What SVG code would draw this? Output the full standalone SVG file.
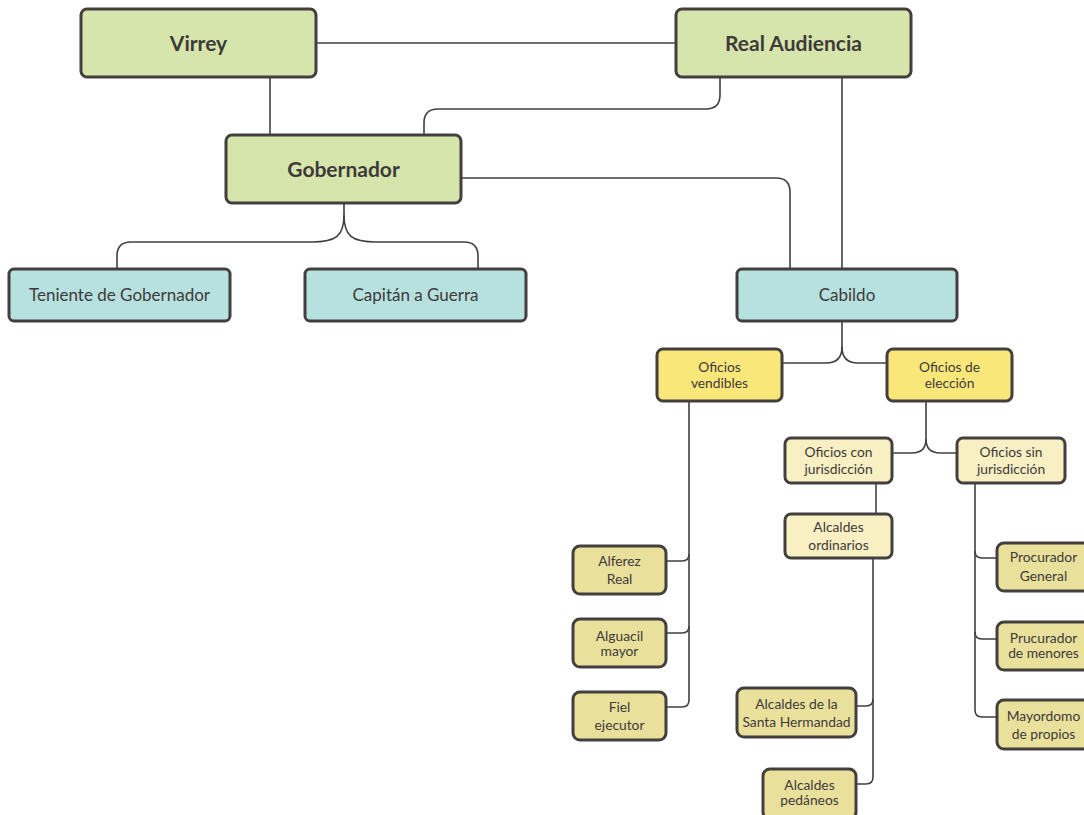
<svg xmlns="http://www.w3.org/2000/svg" width="1084" height="815" viewBox="0 0 1084 815">
<style>
.box{stroke:#433f3f;stroke-width:3}
.g{fill:#d6e5ab}
.c{fill:#b7e1df}
.y{fill:#fae77a}
.ly{fill:#f8efc3}
.k{fill:#e8e09b}
.conn path{fill:none;stroke:#433f3f;stroke-width:1.6}
text{font-family:Lato,"Open Sans","Liberation Sans",sans-serif;fill:#3e3a3a;text-anchor:middle}
.big{font-size:21px;font-weight:bold}
.mid{font-size:17px}
.sm{font-size:13.8px}
</style>
<rect width="1084" height="815" fill="#ffffff"/>
<g class="conn">
<path d="M316,43 H676"/>
<path d="M270,78 V135"/>
<path d="M720,78 V95 Q720,109 706,109 H438 Q424,109 424,123 V135"/>
<path d="M461,178 H776 Q790,178 790,192 V269"/>
<path d="M842,78 V269"/>
<path d="M344,203 V215 C344,236 336,242 312,242 H131 Q117,242 117,256 V268"/>
<path d="M344,215 C344,236 352,242 376,242 H464 Q478,242 478,256 V268"/>
<path d="M842,321 V347 Q842,363 826,363 H782"/>
<path d="M842,347 Q842,363 858,363 H887"/>
<path d="M926,401 V439 Q926,453 912,453 H892"/>
<path d="M926,439 Q926,453 940,453 H957"/>
<path d="M876,483 V514"/>
<path d="M689,401 V700 Q689,707 682,707 H666"/>
<path d="M689,554 Q689,561 682,561 H666"/>
<path d="M689,626 Q689,633 682,633 H666"/>
<path d="M873,558 V777 Q873,784 866,784 H856"/>
<path d="M873,699 Q873,706 866,706 H856"/>
<path d="M975,483 V710 Q975,717 982,717 H997"/>
<path d="M975,551 Q975,558 982,558 H997"/>
<path d="M975,632 Q975,639 982,639 H997"/>
</g>
<g id="virrey"><rect class="box g" x="81" y="9" width="235" height="68" rx="6"/><text class="big" x="198.5" y="50.5">Virrey</text></g>
<g id="real-audiencia"><rect class="box g" x="676" y="9" width="235" height="68" rx="6"/><text class="big" x="793.5" y="50.5">Real Audiencia</text></g>
<g id="gobernador"><rect class="box g" x="226" y="135" width="235" height="68" rx="6"/><text class="big" x="343.5" y="176.5">Gobernador</text></g>
<g id="teniente"><rect class="box c" x="9" y="269" width="221" height="52" rx="5"/><text class="mid" x="119.5" y="301">Teniente de Gobernador</text></g>
<g id="capitan"><rect class="box c" x="305" y="269" width="221" height="52" rx="5"/><text class="mid" x="415.5" y="301">Capitán a Guerra</text></g>
<g id="cabildo"><rect class="box c" x="737" y="269" width="220" height="52" rx="5"/><text class="mid" x="847" y="301">Cabildo</text></g>
<g id="oficios-vendibles"><rect class="box y" x="657" y="349" width="125" height="52" rx="6"/><text class="sm" x="719.5" y="371.5">Oficios</text><text class="sm" x="719.5" y="387.5">vendibles</text></g>
<g id="oficios-eleccion"><rect class="box y" x="887" y="349" width="125" height="52" rx="6"/><text class="sm" x="949.5" y="371.5">Oficios de</text><text class="sm" x="949.5" y="387.5">elección</text></g>
<g id="oficios-con"><rect class="box ly" x="785" y="438" width="107" height="45" rx="6"/><text class="sm" x="838.5" y="456.5">Oficios con</text><text class="sm" x="838.5" y="473.5">jurisdicción</text></g>
<g id="oficios-sin"><rect class="box ly" x="957" y="438" width="108" height="45" rx="6"/><text class="sm" x="1011" y="456.5">Oficios sin</text><text class="sm" x="1011" y="473.5">jurisdicción</text></g>
<g id="alcaldes-ordinarios"><rect class="box ly" x="785" y="514" width="107" height="44" rx="6"/><text class="sm" x="838.5" y="531.5">Alcaldes</text><text class="sm" x="838.5" y="549.5">ordinarios</text></g>
<g id="alferez"><rect class="box k" x="573" y="546" width="93" height="48" rx="7"/><text class="sm" x="619.5" y="565.5">Alferez</text><text class="sm" x="619.5" y="583.5">Real</text></g>
<g id="alguacil"><rect class="box k" x="573" y="619" width="93" height="48" rx="7"/><text class="sm" x="619.5" y="640.5">Alguacil</text><text class="sm" x="619.5" y="655.5">mayor</text></g>
<g id="fiel"><rect class="box k" x="573" y="692" width="93" height="48" rx="7"/><text class="sm" x="619.5" y="711.5">Fiel</text><text class="sm" x="619.5" y="729.5">ejecutor</text></g>
<g id="santa-hermandad"><rect class="box k" x="737" y="688" width="119" height="49" rx="7"/><text class="sm" x="796.5" y="708.5">Alcaldes de la</text><text class="sm" x="796.5" y="726.5">Santa Hermandad</text></g>
<g id="pedaneos"><rect class="box k" x="763" y="769" width="93" height="50" rx="7"/><text class="sm" x="809.5" y="790">Alcaldes</text><text class="sm" x="809.5" y="805">pedáneos</text></g>
<g id="procurador-general"><rect class="box k" x="997" y="543" width="93" height="48" rx="7"/><text class="sm" x="1043.5" y="561.5">Procurador</text><text class="sm" x="1043.5" y="580.5">General</text></g>
<g id="procurador-menores"><rect class="box k" x="997" y="622" width="93" height="48" rx="7"/><text class="sm" x="1043.5" y="643">Prucurador</text><text class="sm" x="1043.5" y="658">de menores</text></g>
<g id="mayordomo"><rect class="box k" x="997" y="700" width="93" height="49" rx="7"/><text class="sm" x="1043.5" y="720.5">Mayordomo</text><text class="sm" x="1043.5" y="738.5">de propios</text></g>
</svg>
